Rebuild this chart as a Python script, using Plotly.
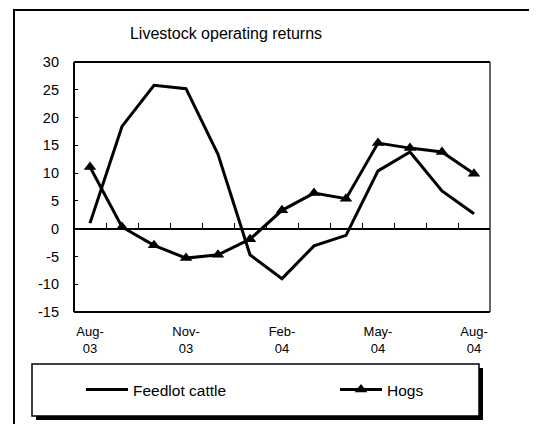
import plotly.graph_objects as go

months = ["Aug-03", "Sep-03", "Oct-03", "Nov-03", "Dec-03", "Jan-04", "Feb-04",
          "Mar-04", "Apr-04", "May-04", "Jun-04", "Jul-04", "Aug-04"]
feedlot_cattle = [1.0, 18.4, 25.8, 25.2, 13.4, -4.7, -9.0, -3.1, -1.2, 10.4, 13.8, 6.8, 2.7]
hogs = [11.1, 0.3, -3.0, -5.3, -4.7, -1.9, 3.3, 6.4, 5.4, 15.4, 14.5, 13.8, 9.9]
tick_months = ["Aug-03", "Nov-03", "Feb-04", "May-04", "Aug-04"]
tick_text = ["Aug-<br>03", "Nov-<br>03", "Feb-<br>04", "May-<br>04", "Aug-<br>04"]
y_ticks = [30, 25, 20, 15, 10, 5, 0, -5, -10, -15]
y_tick_text = ["30", "25", "20", "15", "10", "5", "0", "-5", "-10", "-15"]

W, H = 537, 424
OFF = 8  # page body margin offset
L_REF, T_REF, PW, PH = 74, 62, 416, 250
L, T = L_REF - OFF, T_REF - OFF
R, B = W - L - PW, H - T - PH

def px(x):
    return (x - L_REF) / PW

def py(y):
    return (T_REF + PH - y) / PH

font = "Liberation Sans, Arial, sans-serif"

fig = go.Figure()
fig.add_trace(go.Scatter(x=months, y=feedlot_cattle, name="Feedlot cattle", mode="lines",
                         line=dict(color="black", width=3), legendwidth=197))
fig.add_trace(go.Scatter(x=months, y=hogs, name="Hogs", mode="lines+markers",
                         line=dict(color="black", width=3),
                         marker=dict(symbol="triangle-up", size=11, color="black")))
# helper trace for the zero-line tick axis
fig.add_trace(go.Scatter(x=list(range(len(months))), y=[0] * len(months), xaxis="x2",
                         mode="lines", line=dict(width=0), showlegend=False, hoverinfo="skip"))

shapes = [
    # outer frame
    dict(type="rect", xref="paper", yref="paper", x0=px(14), x1=px(560), y0=py(450), y1=py(10),
         line=dict(color="black", width=2), layer="below"),
    # plot box
    dict(type="line", xref="paper", yref="paper", x0=0, x1=0, y0=0, y1=1, line=dict(color="black", width=2)),
    dict(type="line", xref="paper", yref="paper", x0=0, x1=1, y0=0, y1=0, line=dict(color="black", width=2)),
    dict(type="line", xref="paper", yref="paper", x0=0, x1=1, y0=1, y1=1, line=dict(color="black", width=2)),
    dict(type="line", xref="paper", yref="paper", x0=1, x1=1, y0=0, y1=1, line=dict(color="black", width=1.2)),
    # legend shadow and box
    dict(type="rect", xref="paper", yref="paper", x0=px(36), x1=px(483), y0=py(420), y1=py(368),
         fillcolor="black", line=dict(width=0), layer="below"),
    dict(type="rect", xref="paper", yref="paper", x0=px(32), x1=px(479), y0=py(416), y1=py(364),
         fillcolor="white", line=dict(color="black", width=1.5), layer="below"),
]

fig.update_layout(
    width=W, height=H,
    margin=dict(l=L, r=R, t=T, b=B),
    paper_bgcolor="white", plot_bgcolor="white",
    font=dict(family=font, color="black"),
    title=dict(text="Livestock operating returns", x=px(226), xref="paper", xanchor="center",
               y=1 - (33 - OFF) / H, yref="container", yanchor="middle",
               font=dict(family=font, size=16, color="black")),
    xaxis=dict(type="category", categoryorder="array", categoryarray=months,
               range=[-0.5, len(months) - 0.5],
               tickmode="array", tickvals=tick_months, ticktext=tick_text,
               ticks="", showgrid=False, zeroline=False, showline=False,
               tickfont=dict(size=13, family=font), ticklabelstandoff=10),
    xaxis2=dict(overlaying="x", anchor="free", position=(0 - (-15)) / 45,
                range=[-0.5, len(months) - 0.5], tickmode="array",
                tickvals=[i + 0.5 for i in range(len(months) - 1)],
                ticks="inside", ticklen=5, tickwidth=1.3, tickcolor="black",
                showticklabels=False, showline=True, linecolor="black", linewidth=1.5,
                showgrid=False, zeroline=False),
    yaxis=dict(range=[-15, 30], tickmode="array", tickvals=y_ticks, ticktext=y_tick_text,
               ticks="inside", ticklen=4, tickwidth=1.3, tickcolor="black",
               showgrid=False, zeroline=False, showline=False,
               tickfont=dict(size=14.5, family=font), ticklabelstandoff=14),
    showlegend=True,
    legend=dict(orientation="h", x=px(81), xanchor="left", y=py(390), yanchor="middle",
                bgcolor="rgba(0,0,0,0)", borderwidth=0, itemwidth=42,
                font=dict(size=15.5, family=font, color="black"), itemclick=False),
    shapes=shapes,
)

fig.write_html("out.html")
